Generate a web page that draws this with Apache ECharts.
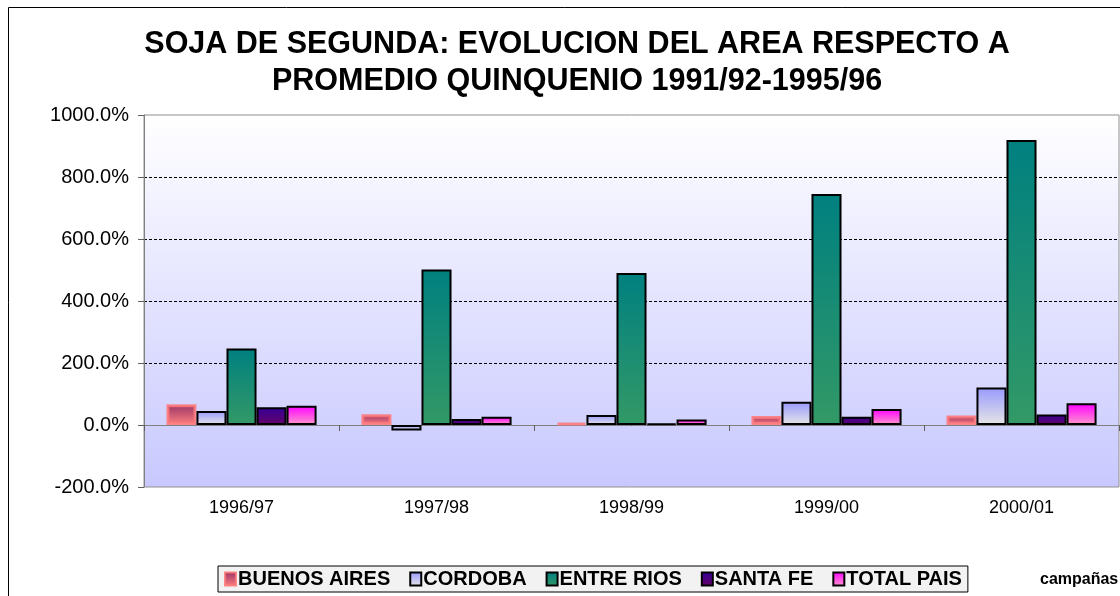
<!DOCTYPE html>
<html>
<head>
<meta charset="utf-8">
<script src="https://cdn.jsdelivr.net/npm/echarts@6/dist/echarts.min.js"></script>
<style>
  html, body { margin: 0; padding: 0; background: #fff; }
  #main { width: 1120px; height: 596px; }
</style>
</head>
<body>
<div id="main"></div>
<script>
// campañas
const campanas = ['1996/97', '1997/98', '1998/99', '1999/00', '2000/01'];
// variación % respecto al promedio 1991/92-1995/96
const buenosAires = [67, 35, 7, 29, 31];
const cordoba = [45, -18, 32, 75, 121];
const entreRios = [247, 502, 490, 745, 919];
const santaFe = [57, 19, 5, 27, 34];
const totalPais = [62, 27, 18, 52, 70];

const yTicks = [-200, 0, 200, 400, 600, 800, 1000];

function grad(top, bottom) {
  return new echarts.graphic.LinearGradient(0, 0, 0, 1, [
    { offset: 0, color: top },
    { offset: 1, color: bottom }
  ]);
}

const seriesDefs = [
  { name: 'BUENOS AIRES', data: buenosAires, fill: grad('#993366', '#ff8080'), border: 'rgba(255,120,120,0.85)', bw: 3 },
  { name: 'CORDOBA', data: cordoba, fill: grad('#9999ff', '#e6e6e6'), border: '#000', bw: 2 },
  { name: 'ENTRE RIOS', data: entreRios, fill: grad('#008080', '#339966'), border: '#000', bw: 2 },
  { name: 'SANTA FE', data: santaFe, fill: grad('#330099', '#660066'), border: '#000', bw: 2 },
  { name: 'TOTAL PAIS', data: totalPais, fill: grad('#ff00ff', '#ff99cc'), border: '#000', bw: 2 }
];

const chart = echarts.init(document.getElementById('main'));

const option = {
  animation: false,
  textStyle: { fontFamily: 'Liberation Sans, Arial, sans-serif' },
  title: {
    text: 'SOJA DE SEGUNDA: EVOLUCION DEL AREA RESPECTO A\nPROMEDIO QUINQUENIO 1991/92-1995/96',
    left: 572,
    textAlign: 'center',
    top: 21,
    textStyle: { fontSize: 30.5, fontWeight: 'bold', color: '#000', lineHeight: 37 }
  },
  legend: {
    left: 218,
    top: 566,
    padding: [3, 6],
    itemGap: 19,
    itemWidth: 11,
    itemHeight: 13,
    icon: 'rect',
    backgroundColor: '#f2f2f2',
    borderColor: '#000',
    borderWidth: 1,
    textStyle: { fontSize: 20, fontWeight: 'bold', color: '#000', padding: [0, 0, 0, -3] },
    data: seriesDefs.map(s => s.name)
  },
  grid: {
    left: 144,
    right: 1,
    top: 115,
    bottom: 109,
    show: true,
    borderColor: '#909090',
    borderWidth: 1,
    backgroundColor: grad('#ffffff', '#c8c8ff')
  },
  xAxis: {
    type: 'category',
    data: campanas,
    axisLine: { onZero: true, lineStyle: { color: '#808080', width: 1 } },
    axisTick: { show: true, length: 6, lineStyle: { color: '#606060' } },
    axisLabel: { fontSize: 18, color: '#000', margin: 12 },
    splitLine: { show: false }
  },
  yAxis: {
    type: 'value',
    min: yTicks[0],
    max: yTicks[yTicks.length - 1],
    interval: 200,
    axisLine: { show: true, lineStyle: { color: '#808080' } },
    axisTick: { show: true, length: 6, lineStyle: { color: '#606060' } },
    axisLabel: { fontSize: 20, color: '#000', margin: 15, formatter: v => v.toFixed(1) + '%' },
    splitLine: { show: true, showMinLine: false, showMaxLine: false, lineStyle: { color: '#000', type: [3, 2], width: 1 } }
  },
  graphic: [
    { type: 'rect', shape: { x: 8.5, y: 7.5, width: 1130, height: 600 }, style: { fill: 'none', stroke: '#000', lineWidth: 1 }, silent: true },
    { type: 'text', left: 1040, top: 572, style: { text: 'campañas', font: 'bold 16px Liberation Sans, Arial, sans-serif', fill: '#000' } }
  ],
  series: seriesDefs.map(s => ({
    name: s.name,
    type: 'bar',
    data: s.data,
    barGap: '0%',
    barCategoryGap: '23%',
    itemStyle: { color: s.fill, borderColor: s.border, borderWidth: s.bw }
  }))
};

chart.setOption(option);
window.addEventListener('resize', () => chart.resize());
</script>
</body>
</html>
